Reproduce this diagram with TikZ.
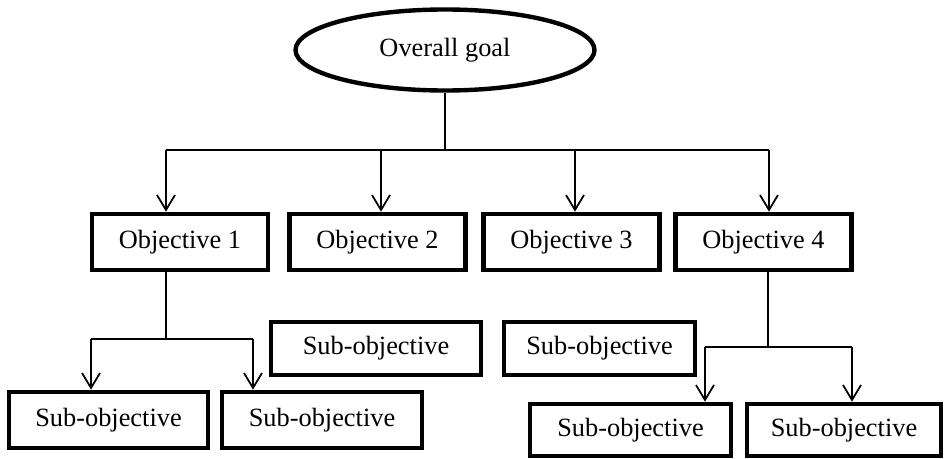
\documentclass[tikz,border=0pt]{standalone}
\usepackage{fontspec}
\setmainfont{Liberation Serif}
\usetikzlibrary{arrows.meta,shapes.geometric}

\begin{document}
\begin{tikzpicture}[>={Straight Barb[length=0.3cm,width=0.36cm]},
  txt/.style={font=\fontsize{15}{18}\selectfont,inner sep=0pt},
  goalbox/.style={txt,draw,ellipse,line width=2.5pt,minimum width=5.98cm,minimum height=1.62cm},
  objbox/.style={txt,draw,line width=2.6pt,minimum width=3.52cm,minimum height=1.12cm},
  link/.style={line width=1pt}]
  \useasboundingbox (0,0) rectangle (18.9,-9.18);
  \node[goalbox] (goal) at (8.9,-1.0) {Overall goal};
  \node[objbox] (obj1) at (3.6,-4.84) {Objective 1};
  \node[objbox] (obj2) at (7.55,-4.84) {Objective 2};
  \node[objbox] (obj3) at (11.43,-4.84) {Objective 3};
  \node[objbox] (obj4) at (15.27,-4.84) {Objective 4};
  \node[objbox,minimum width=3.98cm] (sub1) at (2.17,-8.4) {Sub-objective};
  \node[objbox,minimum width=4.0cm] (sub2) at (6.44,-8.4) {Sub-objective};
  \node[objbox,minimum width=4.2cm,minimum height=1.06cm] (sub3) at (7.52,-6.97) {Sub-objective};
  \node[objbox,minimum width=3.82cm,minimum height=1.06cm] (sub4) at (11.99,-6.97) {Sub-objective};
  \node[objbox,minimum width=4.02cm,minimum height=1.04cm] (sub5) at (12.61,-8.6) {Sub-objective};
  \node[objbox,minimum width=3.88cm,minimum height=1.04cm] (sub6) at (16.88,-8.6) {Sub-objective};

  \coordinate (b1) at (3.32,-3.0);
  \coordinate (b2) at (7.62,-3.0);
  \coordinate (b3) at (11.5,-3.0);
  \coordinate (b4) at (15.38,-3.0);
  \draw[link] (goal.south) -- (goal.south |- b1);
  \draw[link] (b1) -- (b4);
  \foreach \i in {1,...,4}
    \draw[link,->] (b\i) -- (b\i |- obj\i.north);

  \coordinate (j1) at (3.32,-6.78);
  \coordinate (l1) at (1.82,-6.78);
  \coordinate (r1) at (5.06,-6.78);
  \draw[link] (j1 |- obj1.south) -- (j1) (l1) -- (r1);
  \draw[link,->] (l1) -- (l1 |- sub1.north);
  \draw[link,->] (r1) -- (r1 |- sub2.north);

  \coordinate (j4) at (15.36,-6.94);
  \coordinate (l4) at (14.1,-6.94);
  \coordinate (r4) at (17.04,-6.94);
  \draw[link] (j4 |- obj4.south) -- (j4) (l4) -- (r4);
  \draw[link,->] (l4) -- (l4 |- sub5.north);
  \draw[link,->] (r4) -- (r4 |- sub6.north);
\end{tikzpicture}
\end{document}
